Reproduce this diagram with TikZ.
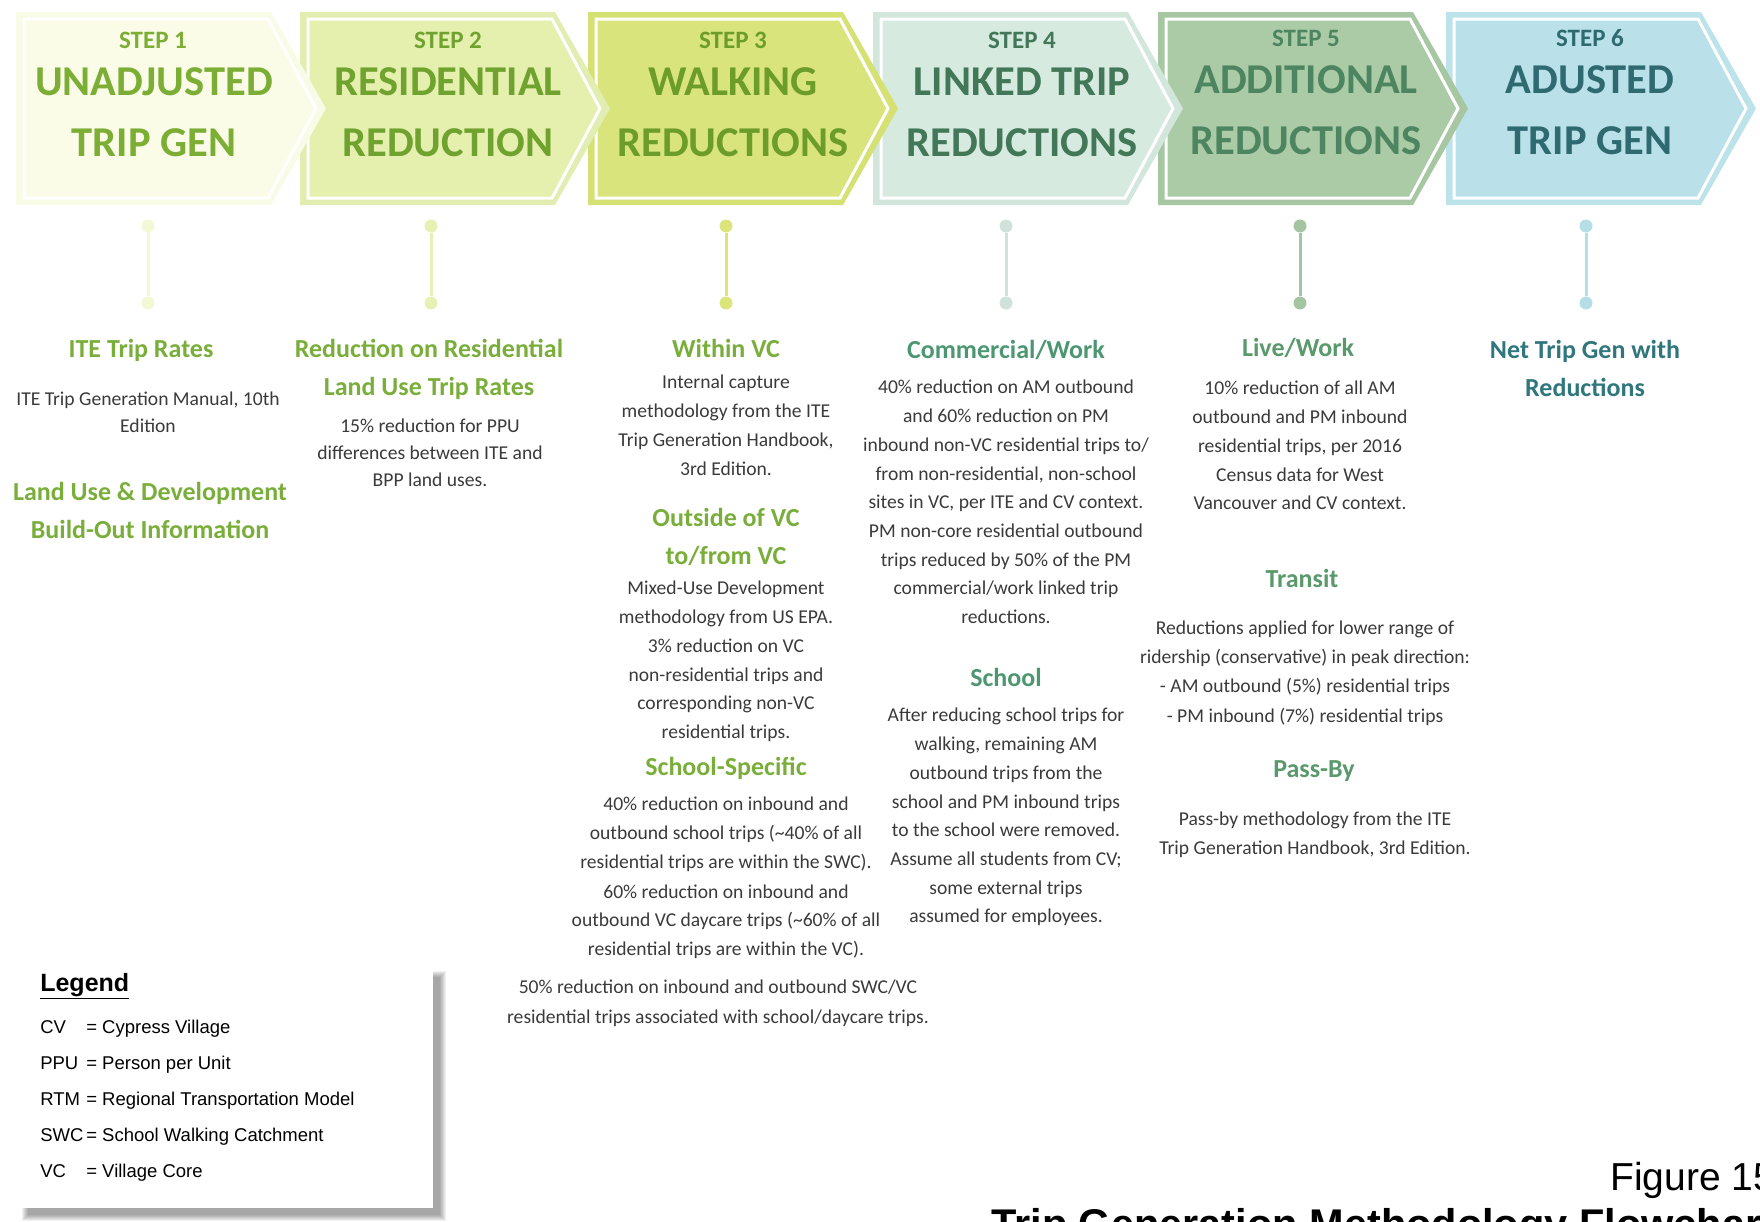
\documentclass[tikz,border=0pt]{standalone}
\usepackage{fontspec}
\setmainfont{Carlito}
\newfontfamily\arialfont{Liberation Sans}
\usetikzlibrary{positioning}
\tikzstyle{every picture}=[semithick]

% chevron colours: band, fill, title text, dot
\definecolor{bandA}{HTML}{F8FBE6}\definecolor{fillA}{HTML}{FAFCE8}\definecolor{textA}{HTML}{7CAE36}\definecolor{dotA}{HTML}{F3F8D6}
\definecolor{bandB}{HTML}{E2EDB2}\definecolor{fillB}{HTML}{E5EFAE}\definecolor{textB}{HTML}{6FA22E}\definecolor{dotB}{HTML}{E8F1B4}
\definecolor{bandC}{HTML}{D6E173}\definecolor{fillC}{HTML}{DAE47D}\definecolor{textC}{HTML}{6C9D2A}\definecolor{dotC}{HTML}{DCE57C}
\definecolor{bandD}{HTML}{D2E6DC}\definecolor{fillD}{HTML}{D7EAE0}\definecolor{textD}{HTML}{427858}\definecolor{dotD}{HTML}{CFE3D9}
\definecolor{bandE}{HTML}{A6C7A2}\definecolor{fillE}{HTML}{ABCBA6}\definecolor{textE}{HTML}{4D8560}\definecolor{dotE}{HTML}{A5C5A2}
\definecolor{bandF}{HTML}{BCE2EA}\definecolor{fillF}{HTML}{BAE1E9}\definecolor{textF}{HTML}{2E6A70}\definecolor{dotF}{HTML}{B6DEE7}
% headings and body
\definecolor{headA}{HTML}{7AAE3A}
\definecolor{headD}{HTML}{4C9772}
\definecolor{headE}{HTML}{5A996B}
\definecolor{headF}{HTML}{2F777D}
\definecolor{bodygray}{HTML}{3A3A3A}

% chevron: left x, band colour, fill colour
\newcommand{\chevron}[3]{%
  \fill[#2] (#1,12) -- ++(255,0) -- ++(55,96.5) -- ++(-55,96.5) -- ++(-255,0) -- cycle;
  \filldraw[fill=#3, draw=white, line width=3] ({#1+8},19) -- ++(244,0) -- ++(48,89.5)
    -- ++(-48,89.5) -- ++(-244,0) -- cycle;
}

\tikzset{
  steplbl/.style={inner sep=0, anchor=base, font=\fontsize{25}{30}\selectfont\bfseries},
  steptitle/.style={inner sep=0, anchor=base, font=\fontsize{42.5}{50}\selectfont\bfseries},
  head/.style={inner sep=0, anchor=north, align=center, font=\fontsize{26}{38}\selectfont\bfseries},
  body/.style={inner sep=0, anchor=north, align=center, text=bodygray, font=\fontsize{19.6}{28.7}\selectfont},
  dot/.style={circle, inner sep=0, minimum size=13},
  legtxt/.style={inner sep=0, anchor=base west, font=\arialfont\fontsize{18.5}{22}\selectfont},
}

\begin{document}
\begin{tikzpicture}[x=1pt,y=-1pt]
  \useasboundingbox (0,0) rectangle (1760,1221);

  % chevrons, right to left so each tip lies over the next one
  \chevron{1446}{bandF}{fillF}
  \chevron{1158}{bandE}{fillE}
  \chevron{873}{bandD}{fillD}
  \chevron{588}{bandC}{fillC}
  \chevron{300}{bandB}{fillB}
  \chevron{16}{bandA}{fillA}

  \node[steplbl, text=textA] (s1) at (153,48) {STEP 1};
  \node[steptitle, text=textA] (t1a) at (154,95) {UNADJUSTED};
  \node[steptitle, text=textA] (t1b) at (154,156) {TRIP GEN};
  \node[steplbl, text=textB] (s2) at (448,48) {STEP 2};
  \node[steptitle, text=textB] (t2a) at (448,95) {RESIDENTIAL};
  \node[steptitle, text=textB] (t2b) at (448,156) {REDUCTION};
  \node[steplbl, text=textC] (s3) at (733,48) {STEP 3};
  \node[steptitle, text=textC] (t3a) at (733,95) {WALKING};
  \node[steptitle, text=textC] (t3b) at (733,156) {REDUCTIONS};
  \node[steplbl, text=textD] (s4) at (1022,48) {STEP 4};
  \node[steptitle, text=textD] (t4a) at (1022,95) {LINKED TRIP};
  \node[steptitle, text=textD] (t4b) at (1022,156) {REDUCTIONS};
  \node[steplbl, text=textE] (s5) at (1306,46) {STEP 5};
  \node[steptitle, text=textE] (t5a) at (1306,93) {ADDITIONAL};
  \node[steptitle, text=textE] (t5b) at (1306,154) {REDUCTIONS};
  \node[steplbl, text=textF] (s6) at (1590,46) {STEP 6};
  \node[steptitle, text=textF] (t6a) at (1590,93) {ADUSTED};
  \node[steptitle, text=textF] (t6b) at (1590,154) {TRIP GEN};

  % stems below each step
  \foreach \x/\c [count=\i] in {148/dotA,431/dotB,726/dotC,1006/dotD,1300/dotE,1586/dotF} {
    \node[dot, fill=\c] (p\i a) at (\x,226) {};
    \node[dot, fill=\c] (p\i b) at (\x,303) {};
    \draw[\c, line width=3] (p\i a) -- (p\i b);
  }

  % step 1
  \node[head, text=headA] (h1a) at (141,339) {ITE Trip Rates};
  \node[body] (b1a) at (148,392) {ITE Trip Generation Manual, 10th\\[-1.7pt]Edition};
  \node[head, text=headA] (h1b) at (150,482) {Land Use \& Development\\Build-Out Information};

  % step 2
  \node[head, text=headA] (h2a) at (429,339) {Reduction on Residential\\Land Use Trip Rates};
  \node[body] (b2a) at (430,419) {15\% reduction for PPU\\[-1.7pt]differences between ITE and\\[-1.7pt]BPP land uses.};

  % step 3
  \node[head, text=headA] (h3a) at (726,339) {Within VC};
  \node[body] (b3a) at (726,375) {Internal capture\\methodology from the ITE\\Trip Generation Handbook,\\3rd Edition.};
  \node[head, text=headA] (h3b) at (726,508) {Outside of VC\\to/from VC};
  \node[body] (b3b) at (726,581) {Mixed-Use Development\\methodology from US EPA.\\3\% reduction on VC\\non-residential trips and\\corresponding non-VC\\residential trips.};
  \node[head, text=headA] (h3c) at (726,757) {School-Specific};
  \node[body] (b3c) at (726,797) {40\% reduction on inbound and\\outbound school trips (\textasciitilde 40\% of all\\residential trips are within the SWC).\\[1pt]60\% reduction on inbound and\\outbound VC daycare trips (\textasciitilde 60\% of all\\residential trips are within the VC).};
  \node[body] (b3d) at (718,980) {50\% reduction on inbound and outbound SWC/VC\\[1pt]residential trips associated with school/daycare trips.};

  % step 4
  \node[head, text=headD] (h4a) at (1006,340) {Commercial/Work};
  \node[body] (b4a) at (1006,380) {40\% reduction on AM outbound\\and 60\% reduction on PM\\inbound non-VC residential trips to/\\from non-residential, non-school\\sites in VC, per ITE and CV context.\\PM non-core residential outbound\\trips reduced by 50\% of the PM\\commercial/work linked trip\\reductions.};
  \node[head, text=headD] (h4b) at (1006,668) {School};
  \node[body] (b4b) at (1006,708) {After reducing school trips for\\walking, remaining AM\\outbound trips from the\\school and PM inbound trips\\to the school were removed.\\Assume all students from CV;\\some external trips\\assumed for employees.};

  % step 5
  \node[head, text=headE] (h5a) at (1298,338) {Live/Work};
  \node[body] (b5a) at (1300,381) {10\% reduction of all AM\\outbound and PM inbound\\residential trips, per 2016\\Census data for West\\Vancouver and CV context.};
  \node[head, text=headE] (h5b) at (1302,569) {Transit};
  \node[body] (b5b) at (1305,621) {Reductions applied for lower range of\\ridership (conservative) in peak direction:\\- AM outbound (5\%) residential trips\\[1pt]- PM inbound (7\%) residential trips};
  \node[head, text=headE] (h5c) at (1314,760) {Pass-By};
  \node[body] (b5c) at (1315,812) {Pass-by methodology from the ITE\\Trip Generation Handbook, 3rd Edition.};

  % step 6
  \node[head, text=headF] (h6a) at (1585,340) {Net Trip Gen with\\Reductions};

  % legend box with soft shadow
  \foreach \k in {0,...,6}
    \fill[black, opacity=0.06] ({22+\k},{971+\k}) rectangle ({446-\k},{1221-\k});
  \fill[white] (18,965) rectangle (433,1208);
  \node[legtxt, font=\arialfont\fontsize{25}{30}\selectfont\bfseries] (leg) at (40,991) {\underline{Legend}};
  \node[legtxt] (cv) at (40,1033) {\makebox[46pt][l]{CV}= Cypress Village};
  \node[legtxt] (ppu) at (40,1069) {\makebox[46pt][l]{PPU}= Person per Unit};
  \node[legtxt] (rtm) at (40,1105) {\makebox[46pt][l]{RTM}= Regional Transportation Model};
  \node[legtxt] (swc) at (40,1141) {\makebox[46pt][l]{SWC}= School Walking Catchment};
  \node[legtxt] (vc) at (40,1177) {\makebox[46pt][l]{VC}= Village Core};

  % figure caption
  \node[inner sep=0, anchor=base west, font=\arialfont\fontsize{39}{44}\selectfont] (fig) at (1610,1190) {Figure 15};
  \node[inner sep=0, anchor=base west, font=\arialfont\fontsize{41.5}{48}\selectfont\bfseries] (cap) at (991,1238) {Trip Generation Methodology Flowchart};
\end{tikzpicture}
\end{document}
